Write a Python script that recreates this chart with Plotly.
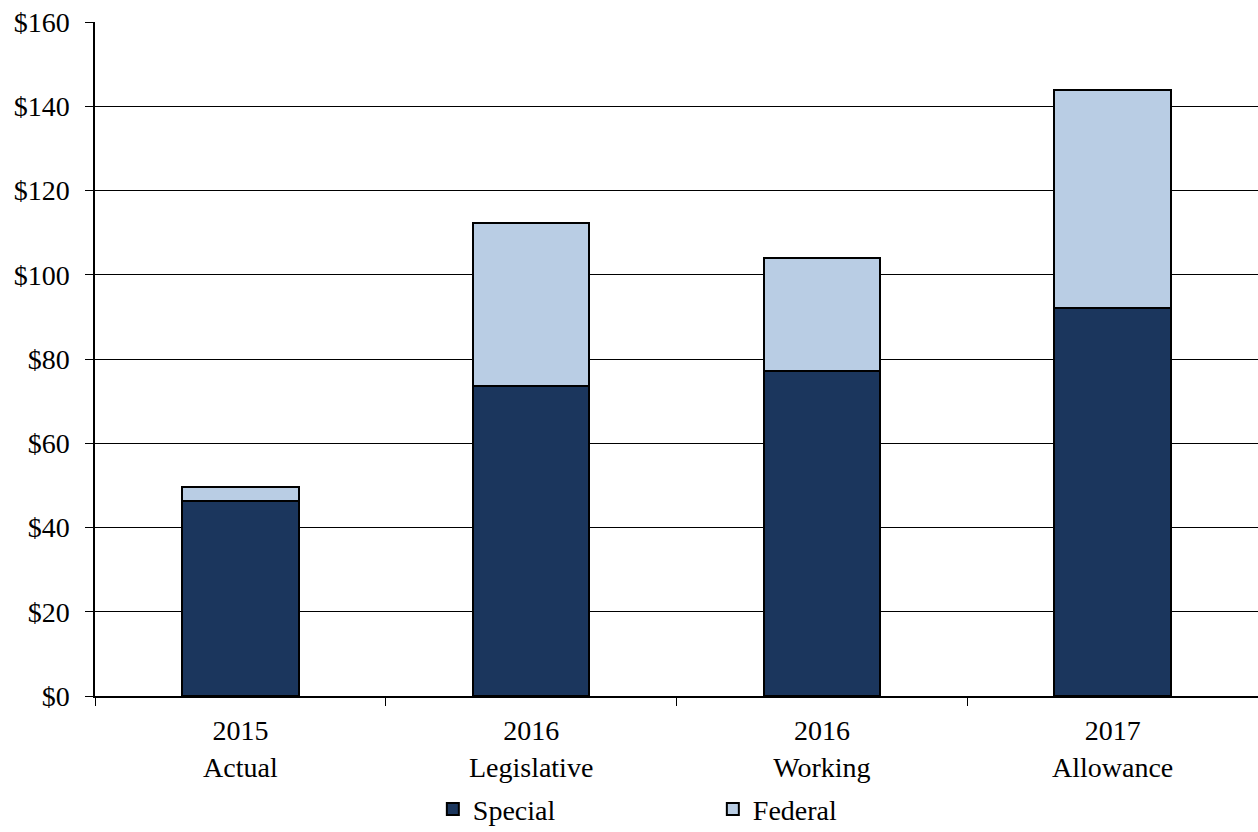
import plotly.graph_objects as go

categories = ["2015<br>Actual", "2016<br>Legislative", "2016<br>Working", "2017<br>Allowance"]
special = [46.3, 73.6, 77.2, 92.1]
federal = [3.3, 38.7, 26.8, 51.8]
y_ticks = [0, 20, 40, 60, 80, 100, 120, 140, 160]

fig = go.Figure()
fig.add_trace(go.Bar(x=categories, y=special, name="Special",
                     marker=dict(color="#1b365d", line=dict(color="black", width=2))))
fig.add_trace(go.Bar(x=categories, y=federal, name="Federal",
                     marker=dict(color="#b9cde4", line=dict(color="black", width=2))))

font = "Liberation Serif, Times New Roman, serif"
fig.update_layout(
    barmode="stack",
    bargap=0.6,
    width=1258, height=832,
    margin=dict(l=95, r=0, t=22, b=136, autoexpand=False),
    plot_bgcolor="white", paper_bgcolor="white",
    font=dict(family=font, size=28, color="black"),
    showlegend=True,
    legend=dict(orientation="h", x=0.2905, xanchor="left", y=-0.168, yanchor="middle",
                font=dict(size=28), entrywidth=235, entrywidthmode="pixels",
                itemwidth=30, traceorder="normal"),
    xaxis=dict(type="category", tickson="boundaries", ticks="outside", ticklen=8,
               tickcolor="black", showline=True, linecolor="black", linewidth=1.5,
               showgrid=False, tickfont=dict(size=28), ticklabelstandoff=9,
               automargin=False),
    yaxis=dict(range=[0, 160], tickvals=y_ticks, ticktext=[f"${v}" for v in y_ticks],
               ticks="outside", ticklen=8, tickcolor="black",
               showline=True, linecolor="black", linewidth=1.5,
               showgrid=True, gridcolor="black", gridwidth=1.3, zeroline=False,
               tickfont=dict(size=28), ticklabelstandoff=10, automargin=False),
)
fig.write_html("out.html")
